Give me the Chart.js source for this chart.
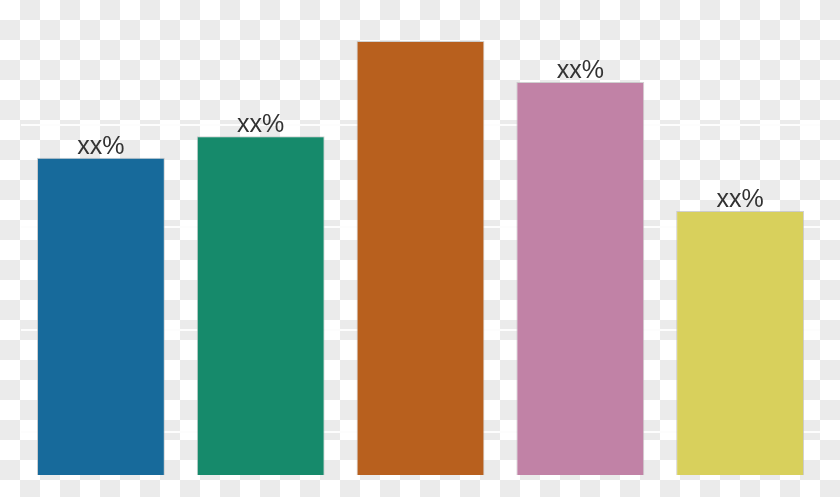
<!DOCTYPE html>
<html>
<head>
<meta charset="utf-8">
<script src="https://cdn.jsdelivr.net/npm/chart.js@4/dist/chart.umd.min.js"></script>
<style>
	html, body { margin: 0; padding: 0; }
	body {
		width: 840px; height: 497px; overflow: hidden;
		background: repeating-conic-gradient(#ebebeb 0 25%, #ffffff 0 50%) 0 0 / 40px 40px;
	}
	#chart_box { width: 840px; height: 497px; position: relative; }
</style>
</head>
<body>
<div id="chart_box"><canvas id="bars_chart"></canvas></div>
<script>
// values (arbitrary units, gridlines every 10)
var categories = ["A", "B", "C", "D", "E"];
var values = [31.0, 33.1, 42.4, 38.4, 25.8];
var valueLabels = ["xx%", "xx%", "", "xx%", "xx%"];
var barColors = ["#176a9b", "#168a6b", "#b8601e", "#c182a6", "#d8d05c"];
var gridTicks = [4.2, 14.2, 24.2, 34.2];

var labelPlugin = {
	id: "valueLabels",
	afterDatasetsDraw: function(chart) {
		var ctx = chart.ctx;
		var meta = chart.getDatasetMeta(0);
		ctx.save();
		ctx.font = "25px 'Liberation Sans', Arial, sans-serif";
		ctx.fillStyle = "#333333";
		ctx.textAlign = "center";
		ctx.textBaseline = "alphabetic";
		for (var ix in meta.data) {
			var bar = meta.data[ix];
			if (valueLabels[ix]) ctx.fillText(valueLabels[ix], bar.x, bar.y - 4);
		}
		ctx.restore();
	}
};

var ctx = document.getElementById("bars_chart");
var barsChart = new Chart(ctx, {
	type: 'bar',
	data: {
		labels: categories,
		datasets: [{
			data: values,
			backgroundColor: barColors,
			borderColor: "rgba(190,190,190,0.7)",
			borderWidth: 1,
			barPercentage: 0.8,
			categoryPercentage: 1.0
		}]
	},
	options: {
		responsive: true,
		maintainAspectRatio: false,
		animation: false,
		layout: { padding: { left: 21, right: 20, top: 0, bottom: 22 } },
		plugins: {
			legend: { display: false },
			tooltip: { enabled: false }
		},
		scales: {
			x: { display: false },
			y: {
				min: 0,
				max: 46.4,
				afterBuildTicks: function(scale) {
					scale.ticks = gridTicks.map(function(v) { return { value: v }; });
				},
				ticks: { display: false },
				border: { display: false },
				grid: { color: "#fdfdfd", lineWidth: 2, drawTicks: false }
			}
		}
	},
	plugins: [labelPlugin]
});
</script>
</body>
</html>
